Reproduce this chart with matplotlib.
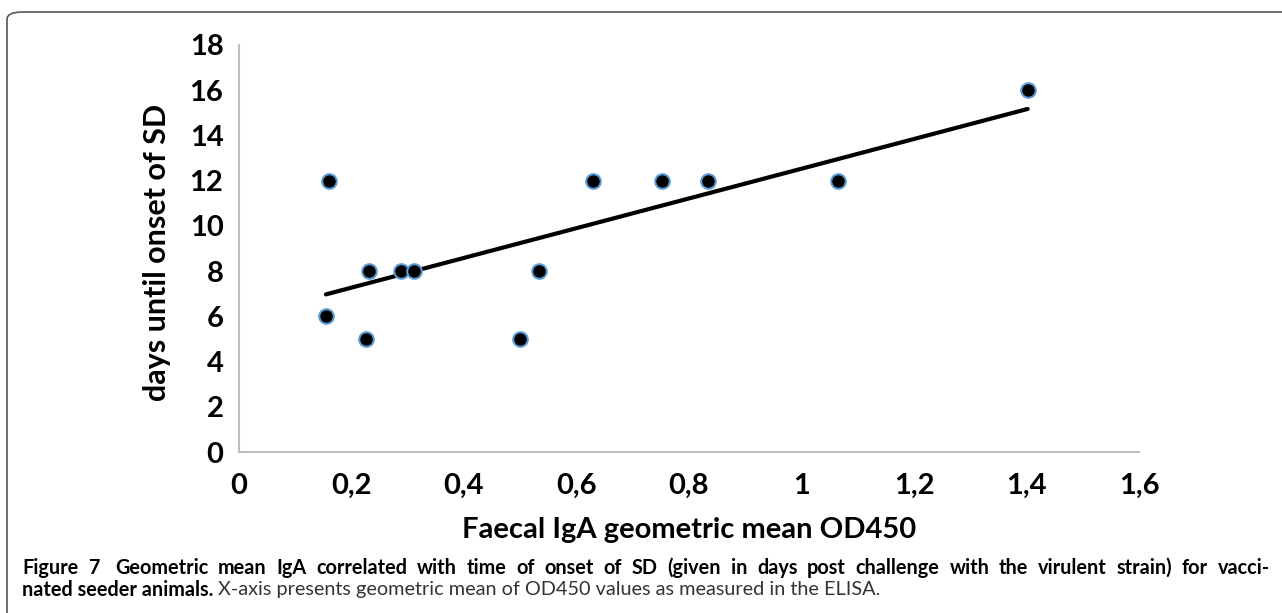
import numpy as np
import matplotlib
matplotlib.use("Agg")
import matplotlib.pyplot as plt
from matplotlib.patches import FancyBboxPatch

# Données (IgA fécale vs jours jusqu'à l'apparition de SD)
iga_od450 = [0.155, 0.160, 0.227, 0.231, 0.288, 0.312, 0.500, 0.534,
             0.629, 0.753, 0.834, 1.065, 1.402]
jours_sd = [6, 12, 5, 8, 8, 8, 5, 8, 12, 12, 12, 12, 16]

x_ticks = [0, 0.2, 0.4, 0.6, 0.8, 1.0, 1.2, 1.4, 1.6]
x_tick_labels = ["0", "0,2", "0,4", "0,6", "0,8", "1", "1,2", "1,4", "1,6"]
y_ticks = [0, 2, 4, 6, 8, 10, 12, 14, 16, 18]

legende_1 = ("Figure 7  Geometric mean IgA correlated with time of onset of SD (given in days "
             "post challenge with the virulent strain) for vacci-")
legende_2_gras = "nated seeder animals."
legende_2 = "X-axis presents geometric mean of OD450 values as measured in the ELISA."

plt.rcParams["font.family"] = ["Lato", "DejaVu Sans"]

W, H = 1282, 613
fig = plt.figure(figsize=(W / 100, H / 100), dpi=100)
ax = fig.add_axes([0.1862, 0.2626, 0.7023, 0.664])

# droite de tendance (régression linéaire)
pente, origine = np.polyfit(iga_od450, jours_sd, 1)
xs = np.array([min(iga_od450), max(iga_od450)])
ax.plot(xs, pente * xs + origine, color="black", lw=3, solid_capstyle="round", zorder=2)

ax.scatter(iga_od450, jours_sd, s=110, color="black", edgecolors="#5B9BD5",
           linewidths=1.5, zorder=3)

ax.set_xlim(0, 1.6)
ax.set_ylim(0, 18)
ax.set_xticks(x_ticks)
ax.set_xticklabels(x_tick_labels)
ax.set_yticks(y_ticks)
ax.tick_params(length=0, labelsize=21)
ax.tick_params(axis="y", pad=11)
ax.tick_params(axis="x", pad=15)
for lab in ax.get_xticklabels() + ax.get_yticklabels():
    lab.set_fontweight("bold")

for s in ["top", "right"]:
    ax.spines[s].set_visible(False)
for s in ["left", "bottom"]:
    ax.spines[s].set_color("#BFBFBF")
    ax.spines[s].set_linewidth(1.5)

ax.set_ylabel("days until onset of SD", fontsize=22, fontweight="bold")
ax.yaxis.set_label_coords(-0.075, 0.49)
ax.set_xlabel("Faecal IgA geometric mean OD450", fontsize=21, fontweight="bold")
ax.xaxis.label.set_va("baseline")
ax.xaxis.set_label_coords(0.5, (452 - 538) / 407)

# cadre arrondi autour de la figure
cadre = FancyBboxPatch((7 / W, -0.2), 1.2, 1.2 - 12 / H,
                       boxstyle="round,pad=0,rounding_size=0.012",
                       transform=fig.transFigure, fill=False,
                       edgecolor="#555555", lw=1.2)
fig.patches.append(cadre)

# légende de la figure (première ligne justifiée)
taille = 14.3
x0, x1 = 22, 1270
y1, y2 = 1 - 568 / H, 1 - 590 / H
renderer = fig.canvas.get_renderer()
mots = [m for m in legende_1.split(" ") if m]
objets = [fig.text(0, y1, m, fontsize=taille, fontweight="bold", va="center", ha="left")
          for m in mots]
largeurs = [o.get_window_extent(renderer).width for o in objets]
espace = (x1 - x0 - sum(largeurs)) / (len(objets) - 1 + 0.6)
pos = x0
for i, (o, larg) in enumerate(zip(objets, largeurs)):
    o.set_x(pos / W)
    pos += larg + espace
    if i == 1:
        pos += espace * 0.6  # double espace après « Figure 7 »

t = fig.text(x0 / W, y2, legende_2_gras, fontsize=taille, fontweight="bold",
             va="center", ha="left")
bb = t.get_window_extent(renderer)
fig.text((bb.x1 + 5) / W, y2, legende_2, fontsize=taille, va="center", ha="left",
         color="#333333")

fig.savefig("out.png", dpi=100)
